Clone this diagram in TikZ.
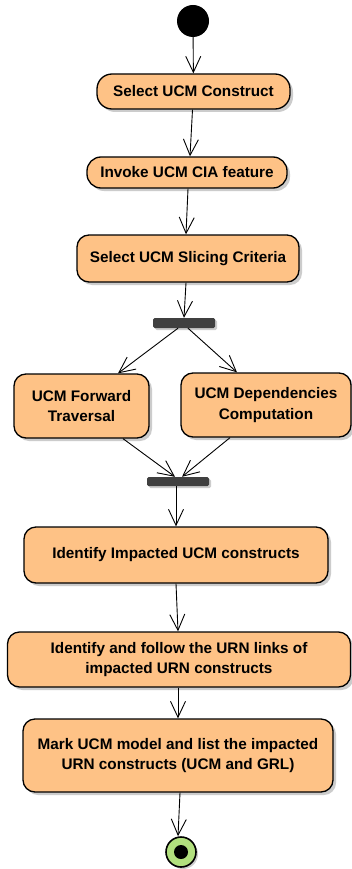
\documentclass[tikz,border=0pt]{standalone}
\usepackage{fontspec}
\setmainfont{Liberation Sans}
\usetikzlibrary{arrows.meta,shadows}
\definecolor{boxfill}{HTML}{FEC286}
\definecolor{barfill}{HTML}{404040}
\definecolor{endfill}{HTML}{B2E07E}
\tikzset{
  act/.style={draw=black, line width=1.3pt, fill=boxfill, rounded corners=12pt,
    align=center, inner sep=0pt, font=\bfseries\fontsize{15.3}{20.5}\selectfont,
    drop shadow={shadow xshift=3pt, shadow yshift=-3pt, fill=black!25, opacity=0.8}},
  forkbar/.style={fill=barfill, rounded corners=1.5pt, inner sep=0pt,
    drop shadow={shadow xshift=2pt, shadow yshift=-2pt, fill=black!25, opacity=0.8}},
  arr/.style={line width=0.9pt, -{Straight Barb[length=16pt,width=15pt,line width=0.9pt]}}
}
\begin{document}
\begin{tikzpicture}[x=1pt,y=-1pt]
\useasboundingbox (0,0) rectangle (352,869);
\node[circle, fill=black, minimum size=32pt, inner sep=0pt] (start) at (193,21) {};
\node[act, minimum width=193pt, minimum height=35pt, rounded corners=15pt] (b1) at (193.5,91.5) {Select UCM Construct};
\node[act, minimum width=200pt, minimum height=31pt, rounded corners=14pt] (b2) at (187,172.5) {Invoke UCM CIA feature};
\node[act, minimum width=222pt, minimum height=47pt] (b3) at (188,258.5) {Select UCM Slicing Criteria};
\node[forkbar, minimum width=62pt, minimum height=10pt] (bar1) at (184,323) {};
\node[act, minimum width=135pt, minimum height=64pt] (b4) at (81.5,406) {UCM Forward\\Traversal};
\node[act, minimum width=170pt, minimum height=64pt] (b5) at (266,405) {UCM Dependencies\\Computation};
\node[forkbar, minimum width=62pt, minimum height=9pt] (bar2) at (178,481.5) {};
\node[act, minimum width=304pt, minimum height=56pt] (b6) at (176,555) {Identify Impacted UCM constructs};
\node[act, minimum width=343pt, minimum height=55pt] (b7) at (179,659.5) {Identify and follow the URN links of\\impacted URN constructs};
\node[act, minimum width=310pt, minimum height=73pt] (b8) at (178,755.5) {Mark UCM model and list the impacted\\URN constructs (UCM and GRL)};
\node[circle, draw=black, line width=1.6pt, fill=endfill, minimum size=30pt, inner sep=0pt,
  drop shadow={shadow xshift=2pt, shadow yshift=-2pt, fill=black!25, opacity=0.8}] (end) at (181,852) {};
\node[circle, fill=black, minimum size=14pt, inner sep=0pt] (endin) at (end.center) {};

\draw[arr] (start) -- (b1);
\draw[arr] ([xshift=-1pt]b1.south) -- ([xshift=3pt]b2.north);
\draw[arr] ([xshift=1pt]b2.south) -- ([xshift=-2pt]b3.north);
\draw[arr] ([xshift=-2pt]b3.south) -- (bar1.north);
\draw[arr] ([xshift=-6pt]bar1.south) -- ([xshift=36.5pt]b4.north);
\draw[arr] ([xshift=4pt]bar1.south) -- ([xshift=-29pt]b5.north);
\draw[arr] ([xshift=41.5pt]b4.south) -- ([xshift=-3pt]bar2.north);
\draw[arr] ([xshift=-36pt]b5.south) -- ([xshift=4pt]bar2.north);
\draw[arr] ([xshift=-2pt]bar2.south) -- (b6.north);
\draw[arr] (b6.south) -- ([xshift=-1pt]b7.north);
\draw[arr] ([xshift=-1pt]b7.south) -- (b8.north);
\draw[arr] ([xshift=2pt]b8.south) -- ([xshift=-3pt]end.north);
\end{tikzpicture}
\end{document}
